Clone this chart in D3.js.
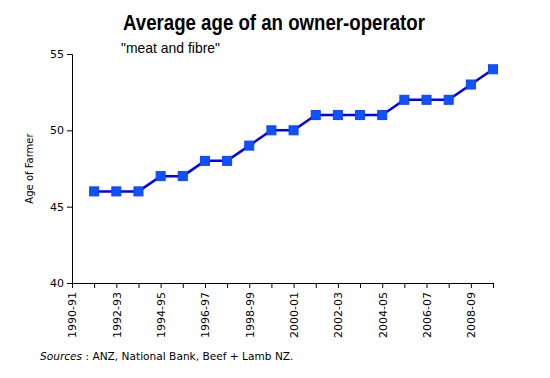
<!doctype html>
<html>
<head>
    <style>
        body {
            margin: 0;
            background: #fff;
        }

        text {
            font-family: 'DejaVu Sans', Verdana, sans-serif;
            fill: #000;
        }

        text.title {
            font-family: 'Liberation Sans', Arial, sans-serif;
            font-size: 22px;
            font-weight: 700;
        }

        text.subtitle {
            font-family: 'Liberation Sans', Arial, sans-serif;
            font-size: 15px;
        }

        .axis text {
            font-size: 11px;
        }

        .axis path, .axis line {
            stroke: #000;
        }

        text.label {
            font-size: 10px;
        }

        text.source {
            font-size: 10.6px;
        }

        path.series {
            fill: none;
            stroke: #0000ee;
            stroke-width: 2.5;
        }

        rect.marker {
            fill: #0a55ff;
            stroke: #1a3cf0;
            stroke-width: 1;
        }
    </style>
    <script src="https://d3js.org/d3.v7.min.js"></script>
</head>
<body>
<svg width="550" height="378"></svg>
<script>
    const years = ['1990-91', '1991-92', '1992-93', '1993-94', '1994-95', '1995-96', '1996-97',
        '1997-98', '1998-99', '1999-00', '2000-01', '2001-02', '2002-03', '2003-04',
        '2004-05', '2005-06', '2006-07', '2007-08', '2008-09', '2009-10']
    const ages = [null, 46, 46, 46, 47, 47, 48, 48, 49, 50, 50, 51, 51, 51, 51, 52, 52, 52, 53, 54]
    const yTicks = [40, 45, 50, 55]
    const xLabels = ['1990-91', '1992-93', '1994-95', '1996-97', '1998-99', '2000-01',
        '2002-03', '2004-05', '2006-07', '2008-09']

    const data = years.map((y, i) => ({ year: y, age: ages[i] }))

    const svg = d3.select('svg')

    const margin = { top: 54, left: 72 }
    const width = 421
    const height = 229

    const chart = svg.append('g')
        .attr('transform', `translate(${margin.left}, ${margin.top})`)

    const xScale = d3.scalePoint()
        .domain(years)
        .range([0, width])

    const yScale = d3.scaleLinear()
        .domain([40, 55])
        .range([height, 0])

    // x axis: a tick for every year, label every other one
    const xAxis = chart.append('g')
        .attr('class', 'axis')
        .attr('transform', `translate(0, ${height})`)
        .call(d3.axisBottom(xScale)
            .tickSizeOuter(0)
            .tickSize(5)
            .tickFormat((d) => xLabels.includes(d) ? d : ''))

    xAxis.selectAll('text')
        .attr('transform', 'rotate(-90)')
        .attr('text-anchor', 'end')
        .attr('x', -9)
        .attr('y', 0)
        .attr('dy', '0.35em')

    chart.append('g')
        .attr('class', 'axis')
        .call(d3.axisLeft(yScale)
            .tickValues(yTicks)
            .tickSizeOuter(0)
            .tickSize(5)
            .tickPadding(3))

    const line = d3.line()
        .defined((d) => d.age !== null)
        .x((d) => xScale(d.year))
        .y((d) => yScale(d.age))

    chart.append('path')
        .datum(data)
        .attr('class', 'series')
        .attr('d', line)

    const s = 9
    chart.selectAll('rect.marker')
        .data(data.filter((d) => d.age !== null))
        .enter()
        .append('rect')
        .attr('class', 'marker')
        .attr('x', (d) => xScale(d.year) - s / 2)
        .attr('y', (d) => yScale(d.age) - s / 2)
        .attr('width', s)
        .attr('height', s)

    svg.append('text')
        .attr('class', 'title')
        .attr('x', 123)
        .attr('y', 30)
        .attr('textLength', 302)
        .attr('lengthAdjust', 'spacingAndGlyphs')
        .text('Average age of an owner-operator')

    svg.append('text')
        .attr('class', 'subtitle')
        .attr('x', 121)
        .attr('y', 53)
        .attr('textLength', 99)
        .attr('lengthAdjust', 'spacingAndGlyphs')
        .text('"meat and fibre"')

    svg.append('text')
        .attr('class', 'label')
        .attr('transform', `translate(33, ${margin.top + height / 2}) rotate(-90)`)
        .attr('text-anchor', 'middle')
        .text('Age of Farmer')

    const src = svg.append('text')
        .attr('class', 'source')
        .attr('x', 40)
        .attr('y', 360)
    src.append('tspan')
        .attr('font-style', 'italic')
        .text('Sources')
    src.append('tspan')
        .text(' : ANZ, National Bank, Beef + Lamb NZ.')
</script>
</body>
</html>
